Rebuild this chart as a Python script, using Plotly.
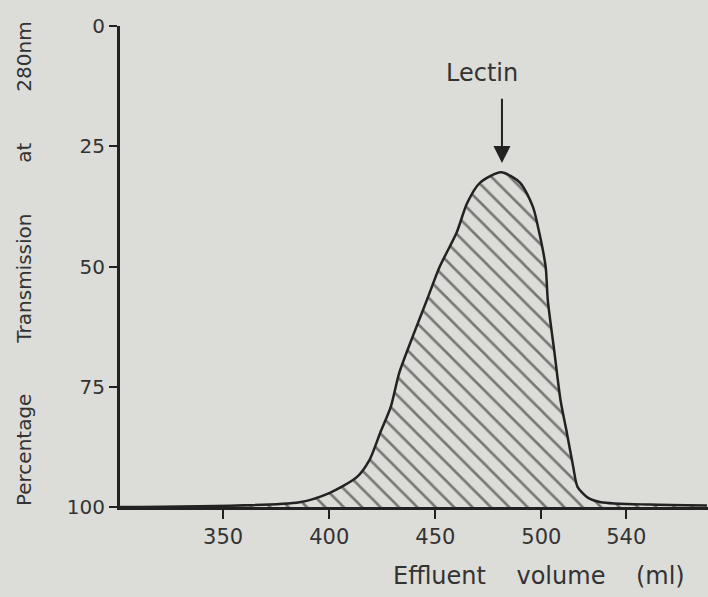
import plotly.graph_objects as go

# Data
volume_ml = [301, 386, 400, 413, 419, 424, 429, 433, 440, 446, 452, 460, 465, 471,
             481, 490, 496, 499, 502, 503, 506, 509, 512, 515, 517, 522, 528, 551, 578]
transmission_pct = [100, 99.0, 97.1, 93.8, 90.2, 84.6, 79.2, 72.1, 63.8, 57.0, 50.1, 43.0, 36.8, 32.6,
                    30.4, 32.6, 37.6, 43.0, 50.1, 57.0, 67.4, 77.8, 84.6, 91.7, 95.8, 98.1, 99.0, 99.5, 99.7]

x_ticks = [350, 400, 450, 500, 540]
x_ticktext = ["350", "400", "450", "500", "540"]
y_ticks = [0, 25, 50, 75, 100]
y_ticktext = ["0", "25", "50", "75", "100"]

peak_label = "Lectin"
peak_x = 481.4
peak_y = 30.4

NB4 = "\u00a0" * 4
NB8 = "\u00a0" * 8
x_title = "Effluent" + NB4 + "volume" + NB4 + "(ml)"
y_title = "Percentage" + NB8 + "Transmission" + NB8 + "at" + NB8 + "280nm"

X_RANGE = [301.4, 578.5]
BG = "#dcdcd8"
INK = "#222222"
TXT = "#333333"
FONT = "DejaVu Sans, sans-serif"

fig = go.Figure()
fig.add_trace(go.Scatter(x=X_RANGE, y=[100, 100], mode="lines",
                         line=dict(width=0, color=INK), showlegend=False, hoverinfo="skip"))
fig.add_trace(go.Scatter(
    x=volume_ml, y=transmission_pct, mode="lines",
    line=dict(color=INK, width=2.5, shape="spline", smoothing=0.7),
    fill="tonexty",
    fillcolor="rgba(0,0,0,0)",
    fillpattern=dict(shape="\\", size=13, solidity=0.2, fgcolor="#111111", bgcolor="rgba(0,0,0,0)"),
    showlegend=False,
))

fig.update_layout(
    width=708, height=597,
    margin=dict(l=120, r=0, t=26, b=90),
    paper_bgcolor=BG, plot_bgcolor=BG,
    font=dict(family=FONT, color=TXT, size=20),
    xaxis=dict(range=X_RANGE, showline=True, linewidth=3, linecolor=INK,
               ticks="outside", ticklen=9, tickwidth=2, tickcolor=INK,
               tickvals=x_ticks, ticktext=x_ticktext, tickfont=dict(size=21),
               showgrid=False, zeroline=False),
    yaxis=dict(range=[100, 0], showline=True, linewidth=3, linecolor=INK,
               ticks="outside", ticklen=8, tickwidth=2, tickcolor=INK,
               tickvals=y_ticks, ticktext=y_ticktext, tickfont=dict(size=20),
               showgrid=False, zeroline=False),
    annotations=[
        dict(x=peak_x, y=peak_y - 1.9, ax=peak_x, ay=14.8, xref="x", yref="y",
             axref="x", ayref="y", text="", showarrow=True,
             arrowhead=2, arrowsize=1.7, arrowwidth=2, arrowcolor=INK),
        dict(x=472.0, y=9.8, xref="x", yref="y", text=peak_label, showarrow=False,
             font=dict(size=24, color=TXT)),
        dict(x=568.5, y=-(576 - 507) / 481, xref="x", yref="paper", text=x_title,
             xanchor="right", yanchor="middle", showarrow=False,
             font=dict(size=24, color=TXT)),
        dict(x=-(120 - 24) / 588, y=0.505, xref="paper", yref="paper", text=y_title,
             xanchor="center", yanchor="middle", showarrow=False,
             textangle=-90, font=dict(size=20, color=TXT)),
    ],
)

fig.write_html("out.html", config={"displayModeBar": False},
               post_script="document.body.style.margin='0px';")
